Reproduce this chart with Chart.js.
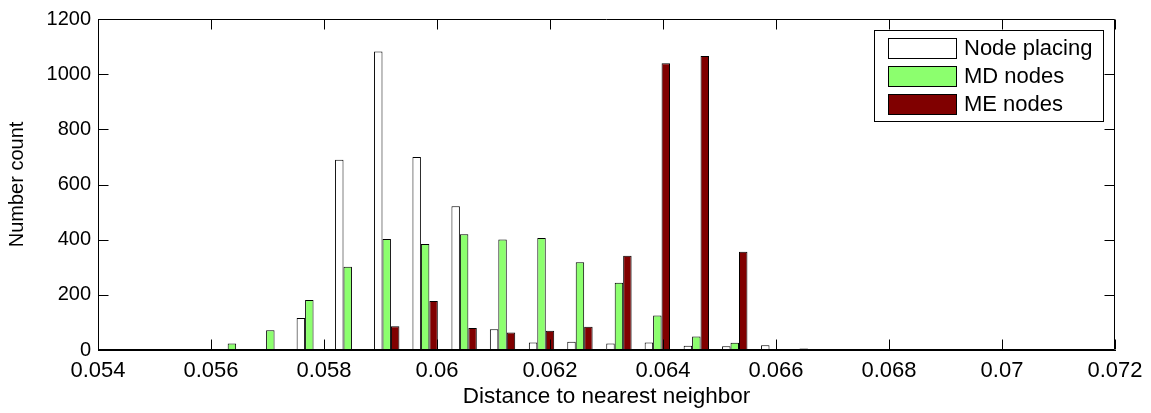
<!DOCTYPE html>
<html>
<head>
<meta charset="utf-8">
<script src="https://cdn.jsdelivr.net/npm/chart.js@4/dist/chart.umd.min.js"></script>
<style>
    html, body { margin: 0; padding: 0; background: #ffffff; }
    canvas { display: block; }
</style>
</head>
<body>
<canvas id="hist-chart" width="1151" height="413"></canvas>
<script>
// ヒストグラムのビン中心（最近傍距離）
const binCenters = [0.05431, 0.05500, 0.05568, 0.05637, 0.05705, 0.05774, 0.05842,
                    0.05911, 0.05979, 0.06048, 0.06116, 0.06185, 0.06253, 0.06322,
                    0.06390, 0.06459, 0.06527, 0.06596, 0.06664, 0.06733, 0.06801];

// 各系列の個数
const nodePlacing = [0, 0, 0, 0, 3, 116, 690, 1082, 700, 521, 75, 27, 30, 24, 27, 15, 14, 17, 5, 4, 4];
const mdNodes     = [0, 0, 0, 24, 72, 181, 302, 402, 384, 420, 401, 406, 318, 244, 125, 49, 26, 0, 3, 2, 0];
const meNodes     = [0, 0, 0, 0, 0, 0, 0, 86, 178, 80, 63, 70, 84, 342, 1040, 1066, 356, 0, 0, 0, 0];

// 軸の目盛り
const xTicks = [0.054, 0.056, 0.058, 0.060, 0.062, 0.064, 0.066, 0.068, 0.070, 0.072];
const yTicks = [0, 200, 400, 600, 800, 1000, 1200];

// 系列名と色
const seriesNames = ['Node placing', 'MD nodes', 'ME nodes'];
const seriesColors = ['#ffffff', '#8cff6e', '#800000'];

Chart.defaults.font.family = "'Liberation Sans', Arial, Helvetica, sans-serif";
Chart.defaults.color = '#000000';

function toPoints(values) {
    return binCenters.map((c, i) => ({ x: c, y: values[i] }));
}

/**
 * 枠線と内向きの目盛り線 (MATLAB風)
 */
const framePlugin = {
    id: 'frame',
    afterDatasetsDraw(chart) {
        const { ctx, chartArea: a, scales: { x, y } } = chart;
        const L = Math.round(a.left) + 0.5;
        const R = Math.round(a.right) - 0.5;
        const T = Math.round(a.top) + 0.5;
        const B = Math.round(a.bottom) - 0.5;
        const len = 10;
        ctx.save();
        ctx.strokeStyle = '#000000';
        ctx.lineWidth = 1;
        ctx.beginPath();
        ctx.moveTo(L, T); ctx.lineTo(R, T); ctx.lineTo(R, B); ctx.lineTo(L, B); ctx.lineTo(L, T);
        xTicks.forEach(v => {
            const px = Math.round(x.getPixelForValue(v)) + 0.5;
            ctx.moveTo(px, B); ctx.lineTo(px, B - len);
            ctx.moveTo(px, T); ctx.lineTo(px, T + len);
        });
        yTicks.forEach(v => {
            const py = Math.round(y.getPixelForValue(v)) + 0.5;
            ctx.moveTo(L, py); ctx.lineTo(L + len, py);
            ctx.moveTo(R, py); ctx.lineTo(R - len, py);
        });
        ctx.stroke();
        ctx.restore();
    }
};

/**
 * 枠付きの凡例をプロット内に描画
 */
const boxLegendPlugin = {
    id: 'boxLegend',
    afterDraw(chart) {
        const { ctx, chartArea: a } = chart;
        const w = 229, h = 91;
        const left = Math.round(a.right) - 12 - w;
        const top = Math.round(a.top) + 11;
        ctx.save();
        ctx.fillStyle = '#ffffff';
        ctx.fillRect(left, top, w, h);
        ctx.strokeStyle = '#000000';
        ctx.lineWidth = 1;
        ctx.strokeRect(left + 0.5, top + 0.5, w, h);
        ctx.font = "22px 'Liberation Sans', Arial, sans-serif";
        ctx.textBaseline = 'middle';
        ctx.textAlign = 'left';
        chart.data.datasets.forEach((ds, i) => {
            const rowY = top + 8 + i * 28;
            ctx.fillStyle = ds.backgroundColor;
            ctx.fillRect(left + 14, rowY, 68, 20);
            ctx.strokeStyle = '#000000';
            ctx.strokeRect(left + 14.5, rowY + 0.5, 68, 20);
            ctx.fillStyle = '#000000';
            ctx.fillText(ds.label, left + 90, rowY + 11);
        });
        ctx.restore();
    }
};

const ctx = document.getElementById('hist-chart').getContext('2d');
new Chart(ctx, {
    type: 'bar',
    data: {
        datasets: [nodePlacing, mdNodes, meNodes].map((vals, i) => ({
            label: seriesNames[i],
            data: toPoints(vals),
            backgroundColor: seriesColors[i],
            borderColor: '#000000',
            borderWidth: 1,
            borderSkipped: false,
            categoryPercentage: 0.66,
            barPercentage: 1.0
        }))
    },
    options: {
        responsive: false,
        animation: false,
        devicePixelRatio: 1,
        layout: { padding: { left: 0, right: 36, top: 14, bottom: 0 } },
        plugins: {
            legend: { display: false },
            tooltip: { enabled: false }
        },
        scales: {
            x: {
                type: 'linear',
                offset: false,
                min: 0.054,
                max: 0.072,
                afterBuildTicks: scale => { scale.ticks = xTicks.map(v => ({ value: v })); },
                afterFit: scale => { scale.height = 63; },
                grid: { display: false, drawTicks: false },
                border: { display: true, color: '#000000', width: 1 },
                ticks: {
                    autoSkip: false,
                    maxRotation: 0,
                    padding: 8,
                    font: { size: 22 },
                    callback: v => String(Number(v.toFixed(3)))
                },
                title: {
                    display: true,
                    text: 'Distance to nearest neighbor',
                    font: { size: 22.5 },
                    padding: { top: 0, bottom: 3 }
                }
            },
            y: {
                min: 0,
                max: 1200,
                afterBuildTicks: scale => { scale.ticks = yTicks.map(v => ({ value: v })); },
                afterFit: scale => { scale.width = 98; },
                grid: { display: false, drawTicks: false },
                border: { display: true, color: '#000000', width: 1 },
                ticks: {
                    padding: 7,
                    font: { size: 20 },
                    callback: v => String(v)
                },
                title: {
                    display: true,
                    text: 'Number count',
                    font: { size: 20 },
                    padding: { top: 5, bottom: 0 }
                }
            }
        }
    },
    plugins: [framePlugin, boxLegendPlugin]
});
</script>
</body>
</html>
